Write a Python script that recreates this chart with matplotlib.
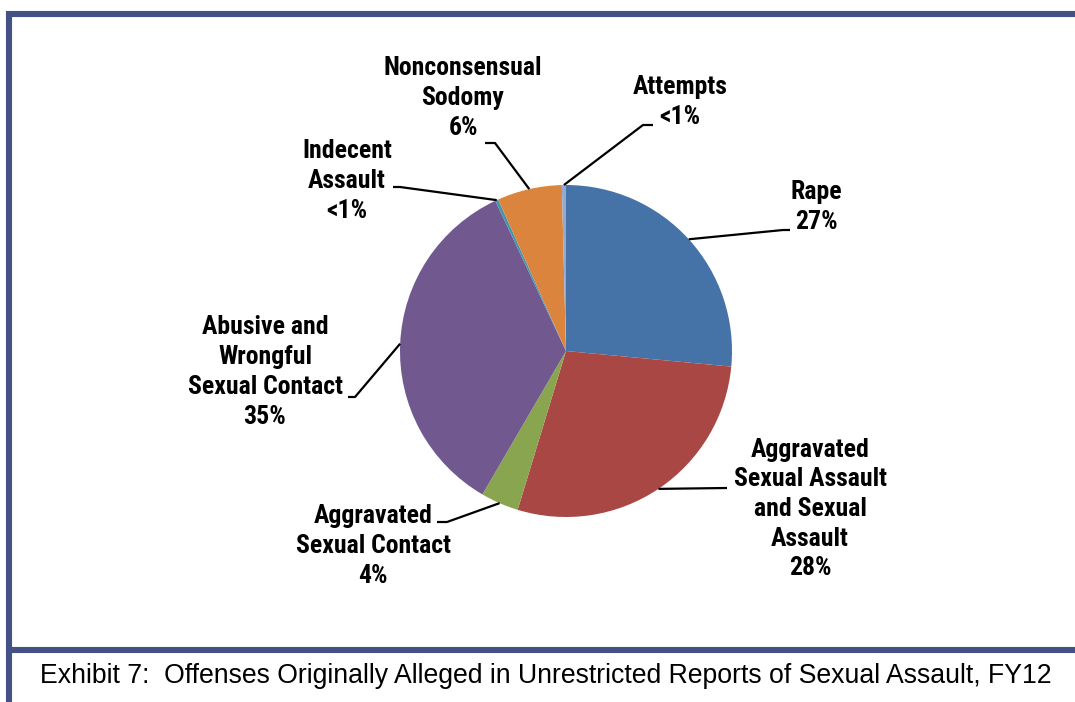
import numpy as np
import matplotlib.pyplot as plt
from matplotlib.lines import Line2D
from matplotlib import font_manager

# offense categories, clockwise from 12 o'clock
categories = ["Rape",
              "Aggravated\nSexual Assault\nand Sexual\nAssault",
              "Aggravated\nSexual Contact",
              "Abusive and\nWrongful\nSexual Contact",
              "Indecent\nAssault",
              "Nonconsensual\nSodomy",
              "Attempts"]
shares = [26.5, 28.2, 3.7, 34.6, 0.3, 6.3, 0.4]
pct_labels = ["27%", "28%", "4%", "35%", "<1%", "6%", "<1%"]
colors = ["#4673a7", "#a94744", "#89a54f", "#71588f", "#4297af", "#db843d", "#94a9cf"]

caption = "Exhibit 7:  Offenses Originally Alleged in Unrestricted Reports of Sexual Assault, FY12"

# pick a narrow bold face if one is installed
installed = {f.name for f in font_manager.fontManager.ttflist}
narrow = [n for n in ["Liberation Sans Narrow", "Roboto Condensed", "Arial Narrow",
                      "Open Sans Condensed", "DejaVu Sans Condensed"] if n in installed]
if narrow:
    label_font, label_size = [narrow[0], "DejaVu Sans"], 18.5
else:
    label_font, label_size = ["Liberation Sans", "DejaVu Sans"], 16

W, H = 1075, 702
fig = plt.figure(figsize=(W / 100, H / 100), dpi=100)
ax = fig.add_axes([0, 0, 1, 1])

cx, cy, r = 566, H - 351, 166
wedges, _ = ax.pie(shares, colors=colors, startangle=90, counterclock=False,
                   center=(cx, cy), radius=r, frame=True,
                   wedgeprops=dict(linewidth=0))
ax.set_xlim(0, W)
ax.set_ylim(0, H)
ax.set_aspect("equal")
ax.axis("off")

# label layout in pixels (top-left origin): text centre, elbow, line end
text_pos = [(816, 207), (810, 509), (373, 546), (265, 372), (347, 181), (463, 98), (680, 102)]
elbows = [(783, 230), (727, 488), (447, 522), (355, 397), (400, 187), (495, 143), (643, 125)]
ends = [(790, 230), (727, 488), (437, 522), (348, 397), (393, 187), (485, 143), (653, 125)]

for w, cat, pct, tp, el, en in zip(wedges, categories, pct_labels, text_pos, elbows, ends):
    mid = np.deg2rad((w.theta1 + w.theta2) / 2)
    ax_x = cx + r * np.cos(mid)
    ax_y = cy + r * np.sin(mid)
    ax.plot([ax_x, el[0], en[0]], [ax_y, H - el[1], H - en[1]],
            color="black", lw=1.6, solid_capstyle="butt")
    ax.text(tp[0], H - tp[1], cat + "\n" + pct, ha="center", va="center",
            fontsize=label_size, fontweight="bold", family=label_font, linespacing=1.3)

# frame lines
border = "#435185"
lw = 4.4
fig.add_artist(Line2D([6 / W, 1], [1 - 14 / H, 1 - 14 / H], color=border, lw=lw, solid_capstyle="butt"))
fig.add_artist(Line2D([9 / W, 9 / W], [1 - 11 / H, 0], color=border, lw=lw, solid_capstyle="butt"))
fig.add_artist(Line2D([12 / W, 1], [1 - 650 / H, 1 - 650 / H], color=border, lw=lw, solid_capstyle="butt"))

fig.text(40 / W, 1 - 676 / H, caption, ha="left", va="center", fontsize=19.2,
         family=["Liberation Sans", "DejaVu Sans"])

fig.savefig("out.png", dpi=100)
